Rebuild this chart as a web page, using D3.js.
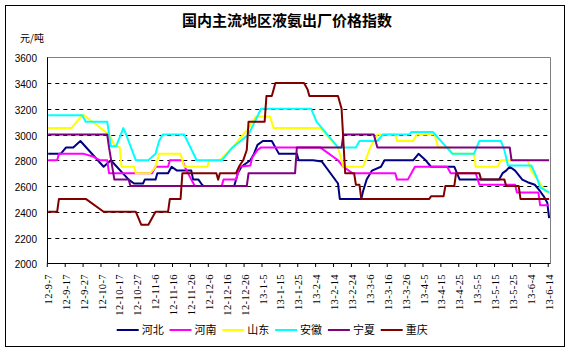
<!DOCTYPE html>
<html>
<head>
<meta charset="utf-8">
<script src="https://cdn.jsdelivr.net/npm/d3@7"></script>
<style>
  body { margin: 0; background: #fff; }
  svg { display: block; }
</style>
</head>
<body>
<svg id="chart"></svg>
<script>
// Data
const title = "国内主流地区液氨出厂价格指数";
const unitLabel = "元/吨";
const seriesNames = ["河北", "河南", "山东", "安徽", "宁夏", "重庆"];
const firstDay = "12-9-7";
const lastDay = "13-6-14";
const tickLabels = [
  "12-9-7", "12-9-17", "12-9-27", "12-10-7", "12-10-17", "12-10-27",
  "12-11-6", "12-11-16", "12-11-26", "12-12-6", "12-12-16", "12-12-26",
  "13-1-5", "13-1-15", "13-1-25", "13-2-4", "13-2-14", "13-2-24",
  "13-3-6", "13-3-16", "13-3-26", "13-4-5", "13-4-15", "13-4-25",
  "13-5-5", "13-5-15", "13-5-25", "13-6-4", "13-6-14"
];
const yTicks = [2000, 2200, 2400, 2600, 2800, 3000, 3200, 3400, 3600];

// [date, price] at each change of the daily series
const hebei = [
  ["12-9-7", 2850], ["12-9-14", 2850], ["12-9-17", 2900], ["12-9-21", 2900],
  ["12-9-25", 2950], ["12-10-8", 2750], ["12-10-12", 2800], ["12-10-22", 2650],
  ["12-10-25", 2620], ["12-10-30", 2620], ["12-10-31", 2650], ["12-11-6", 2650],
  ["12-11-7", 2700], ["12-11-13", 2700], ["12-11-15", 2750], ["12-11-18", 2720],
  ["12-11-26", 2720], ["12-11-27", 2650], ["12-11-30", 2650], ["12-12-2", 2610],
  ["12-12-3", 2600], ["12-12-20", 2600], ["12-12-22", 2700], ["12-12-24", 2750],
  ["12-12-29", 2800], ["12-12-31", 2850], ["13-1-2", 2920], ["13-1-5", 2950],
  ["13-1-10", 2950], ["13-1-12", 2900], ["13-1-14", 2850], ["13-1-24", 2850],
  ["13-1-25", 2800], ["13-2-2", 2800], ["13-2-7", 2790], ["13-2-16", 2620],
  ["13-2-17", 2500], ["13-3-1", 2500], ["13-3-2", 2560], ["13-3-4", 2650],
  ["13-3-7", 2720], ["13-3-12", 2750], ["13-3-14", 2800], ["13-3-30", 2800],
  ["13-4-2", 2850], ["13-4-6", 2800], ["13-4-9", 2750], ["13-4-22", 2750],
  ["13-4-25", 2650], ["13-5-17", 2650], ["13-5-19", 2700], ["13-5-21", 2720],
  ["13-5-23", 2750], ["13-5-26", 2720], ["13-5-30", 2650], ["13-6-2", 2630],
  ["13-6-6", 2610], ["13-6-9", 2560], ["13-6-11", 2520], ["13-6-13", 2470],
  ["13-6-14", 2350]
];
const henan = [
  ["12-9-7", 2800], ["12-9-12", 2800], ["12-9-13", 2850], ["12-9-27", 2850],
  ["12-10-2", 2830], ["12-10-6", 2800], ["12-10-10", 2800], ["12-10-11", 2700],
  ["12-11-4", 2700], ["12-11-6", 2750], ["12-11-13", 2750], ["12-11-14", 2800],
  ["12-11-21", 2800], ["12-11-23", 2730], ["12-11-26", 2650], ["12-11-28", 2600],
  ["12-12-13", 2600], ["12-12-14", 2650], ["12-12-21", 2650], ["12-12-22", 2700],
  ["12-12-23", 2750], ["12-12-29", 2760], ["12-12-30", 2820], ["13-1-2", 2880],
  ["13-1-4", 2900], ["13-2-6", 2900], ["13-2-16", 2800], ["13-2-19", 2750],
  ["13-2-24", 2700], ["13-3-20", 2700], ["13-3-21", 2650], ["13-3-27", 2650],
  ["13-3-29", 2700], ["13-3-31", 2750], ["13-4-18", 2750], ["13-4-20", 2700],
  ["13-5-4", 2700], ["13-5-6", 2610], ["13-5-26", 2610], ["13-5-27", 2550],
  ["13-6-8", 2550], ["13-6-9", 2450], ["13-6-14", 2450]
];
const shandong = [
  ["12-9-7", 3050], ["12-9-20", 3050], ["12-9-26", 3150], ["12-9-27", 3150],
  ["12-10-11", 3000], ["12-10-14", 2920], ["12-10-17", 2900], ["12-10-18", 2750],
  ["12-10-25", 2750], ["12-10-26", 2700], ["12-11-3", 2700], ["12-11-6", 2750],
  ["12-11-8", 2850], ["12-11-20", 2850], ["12-11-22", 2750], ["12-12-5", 2750],
  ["12-12-6", 2800], ["12-12-12", 2800], ["12-12-19", 2900], ["12-12-28", 3050],
  ["13-1-1", 3140], ["13-1-9", 3140], ["13-1-11", 3050], ["13-2-6", 3050],
  ["13-2-16", 2900], ["13-2-19", 2750], ["13-3-2", 2750], ["13-3-6", 2900],
  ["13-3-10", 3000], ["13-3-20", 3000], ["13-3-21", 2950], ["13-3-30", 2950],
  ["13-4-1", 3000], ["13-4-11", 3000], ["13-4-13", 2900], ["13-4-19", 2900],
  ["13-4-21", 2850], ["13-5-3", 2850], ["13-5-4", 2750], ["13-5-16", 2750],
  ["13-5-18", 2800], ["13-6-2", 2800], ["13-6-4", 2720], ["13-6-12", 2560],
  ["13-6-14", 2550]
];
const anhui = [
  ["12-9-7", 3150], ["12-9-26", 3150], ["12-9-28", 3100], ["12-10-10", 3100],
  ["12-10-12", 2910], ["12-10-15", 2910], ["12-10-19", 3050], ["12-10-20", 3020],
  ["12-10-26", 2800], ["12-11-2", 2800], ["12-11-6", 2850], ["12-11-8", 2950],
  ["12-11-10", 3000], ["12-11-22", 3000], ["12-11-29", 2800], ["12-12-13", 2800],
  ["12-12-19", 2900], ["12-12-28", 3000], ["13-1-4", 3200], ["13-2-1", 3200],
  ["13-2-4", 3100], ["13-2-16", 2900], ["13-2-26", 2900], ["13-2-28", 2950],
  ["13-3-10", 2950], ["13-3-13", 3000], ["13-3-28", 3000], ["13-3-29", 3020],
  ["13-4-10", 3020], ["13-4-21", 2850], ["13-5-3", 2850], ["13-5-6", 2950],
  ["13-5-18", 2950], ["13-5-20", 2880], ["13-5-22", 2760], ["13-6-4", 2760],
  ["13-6-7", 2670], ["13-6-9", 2590], ["13-6-14", 2550]
];
const ningxia = [
  ["12-9-7", 3000], ["12-10-10", 3000], ["12-10-11", 2900], ["12-10-14", 2650],
  ["12-10-22", 2650], ["12-10-23", 2600], ["12-12-27", 2600], ["12-12-28", 2700],
  ["13-1-23", 2700], ["13-1-24", 2900], ["13-2-18", 2900], ["13-2-19", 3000],
  ["13-3-8", 3000], ["13-3-10", 2900], ["13-5-23", 2900], ["13-5-24", 2800],
  ["13-6-14", 2800]
];
const chongqing = [
  ["12-9-7", 2400], ["12-9-12", 2400], ["12-9-13", 2500], ["12-9-28", 2500],
  ["12-10-8", 2400], ["12-10-26", 2400], ["12-10-29", 2300], ["12-11-2", 2300],
  ["12-11-6", 2400], ["12-11-13", 2400], ["12-11-14", 2500], ["12-11-20", 2500],
  ["12-11-21", 2700], ["12-12-10", 2700], ["12-12-11", 2650], ["12-12-12", 2700],
  ["12-12-21", 2700], ["12-12-23", 2760], ["12-12-25", 2800], ["12-12-27", 2880],
  ["12-12-28", 3100], ["13-1-6", 3100], ["13-1-7", 3300], ["13-1-10", 3300],
  ["13-1-12", 3400], ["13-1-28", 3400], ["13-1-30", 3350], ["13-1-31", 3300],
  ["13-2-16", 3300], ["13-2-18", 3200], ["13-2-20", 2700], ["13-2-25", 2700],
  ["13-2-26", 2610], ["13-2-28", 2610], ["13-3-1", 2500], ["13-4-8", 2500],
  ["13-4-9", 2520], ["13-4-16", 2520], ["13-4-17", 2600], ["13-4-22", 2600],
  ["13-4-23", 2700], ["13-5-6", 2700], ["13-5-7", 2650], ["13-5-20", 2650],
  ["13-5-21", 2600], ["13-5-28", 2600], ["13-5-29", 2500], ["13-6-14", 2500]
];
const seriesValues = [hebei, henan, shandong, anhui, ningxia, chongqing];

// Configurations
let width = 573
let height = 353
let marginLeft = 47.3 // left edge of the plot area
let marginRight = 23 // space right of the plot area
let marginTop = 57.3 // top edge of the plot area
let plotBottom = 263.3 // bottom edge of the plot area
let colors = ["#000080", "#ff00ff", "#ffff00", "#00ffff", "#800080", "#800000"]
let sans = "'Liberation Sans', Arial, sans-serif"
let serif = "'Liberation Serif', 'Times New Roman', serif"
let cjk = "'Noto Sans CJK SC', sans-serif"

const parse = d3.timeParse("%y-%m-%d");
const format = d3.timeFormat("%y-%-m-%-d");
const categories = d3.timeDay
  .range(parse(firstDay), d3.timeDay.offset(parse(lastDay), 1))
  .map(format);

const xScale = d3.scaleBand(categories, [marginLeft, width - marginRight]);
const bw = xScale.bandwidth();
const yScale = d3.scaleLinear([2000, 3600], [plotBottom, marginTop]);

const svg = d3.select("#chart")
  .attr("width", width)
  .attr("height", height)
  .attr("viewBox", [0, 0, width, height]);

// outer frame
svg.append("rect")
  .attr("x", 5.5).attr("y", 5.5)
  .attr("width", 559).attr("height", 341)
  .attr("fill", "#fff")
  .attr("stroke", "#000");

svg.append("text")
  .attr("x", 287).attr("y", 26)
  .attr("text-anchor", "middle")
  .attr("font-family", cjk)
  .attr("font-weight", "bold")
  .attr("font-size", 15)
  .text(title);

svg.append("text")
  .attr("x", 20).attr("y", 42)
  .attr("font-family", cjk)
  .attr("font-size", 10)
  .text(unitLabel);

// grid lines
svg.append("g")
  .selectAll("line")
  .data(yTicks.slice(1, -1))
  .join("line")
  .attr("x1", marginLeft).attr("x2", width - marginRight)
  .attr("y1", d => Math.round(yScale(d)) + 0.5)
  .attr("y2", d => Math.round(yScale(d)) + 0.5)
  .attr("stroke", "#000")
  .attr("stroke-dasharray", "4,4");

// plot border (top and right are grey)
svg.append("path")
  .attr("d", `M${marginLeft},${Math.round(marginTop) + 0.5}H${Math.round(width - marginRight) + 0.5}V${plotBottom}`)
  .attr("fill", "none")
  .attr("stroke", "#808080");

// y labels
svg.append("g")
  .selectAll("text")
  .data(yTicks)
  .join("text")
  .attr("x", 37)
  .attr("y", d => yScale(d))
  .attr("dy", "0.5em")
  .attr("text-anchor", "end")
  .attr("font-family", sans)
  .attr("font-size", 10)
  .text(d => d);

svg.append("line")
  .attr("x1", Math.round(marginLeft) + 0.5).attr("x2", Math.round(marginLeft) + 0.5)
  .attr("y1", marginTop).attr("y2", plotBottom)
  .attr("stroke", "#000");

// x axis: ticks on category edges, labels on category centres
const xAxis = d3.axisBottom(xScale).tickValues(tickLabels).tickSize(4).tickSizeOuter(0);
svg.append("g")
  .attr("transform", `translate(0,${Math.round(plotBottom)})`)
  .call(xAxis)
  .call(g => g.select(".domain").attr("stroke", "#000"))
  .call(g => g.selectAll(".tick line").attr("transform", `translate(${-bw / 2},0)`).attr("stroke", "#000"))
  .call(g => g.selectAll(".tick text")
    .attr("transform", "rotate(-90)")
    .attr("text-anchor", "end")
    .attr("x", -11)
    .attr("y", 0)
    .attr("dy", "0.35em")
    .attr("fill", "#000")
    .attr("letter-spacing", 0.4)
    .attr("font-family", serif)
    .attr("font-size", 10.5));

// series
const line = d3.line()
  .x(d => xScale(format(parse(d[0]))) + bw / 2)
  .y(d => yScale(d[1]));

svg.append("g")
  .attr("fill", "none")
  .attr("stroke-width", 2)
  .attr("stroke-linejoin", "round")
  .selectAll("path")
  .data(seriesValues)
  .join("path")
  .attr("stroke", (d, i) => colors[i])
  .attr("d", line);

// legend
const legend = svg.append("g")
  .selectAll("g")
  .data(seriesNames)
  .join("g")
  .attr("transform", (d, i) => `translate(${116.7 + i * 52.8},330)`);

legend.append("line")
  .attr("x1", 0).attr("x2", 22)
  .attr("stroke", (d, i) => colors[i])
  .attr("stroke-width", 2);

legend.append("text")
  .attr("x", 25)
  .attr("dy", "0.38em")
  .attr("font-family", cjk)
  .attr("font-size", 11)
  .text(d => d);
</script>
</body>
</html>
